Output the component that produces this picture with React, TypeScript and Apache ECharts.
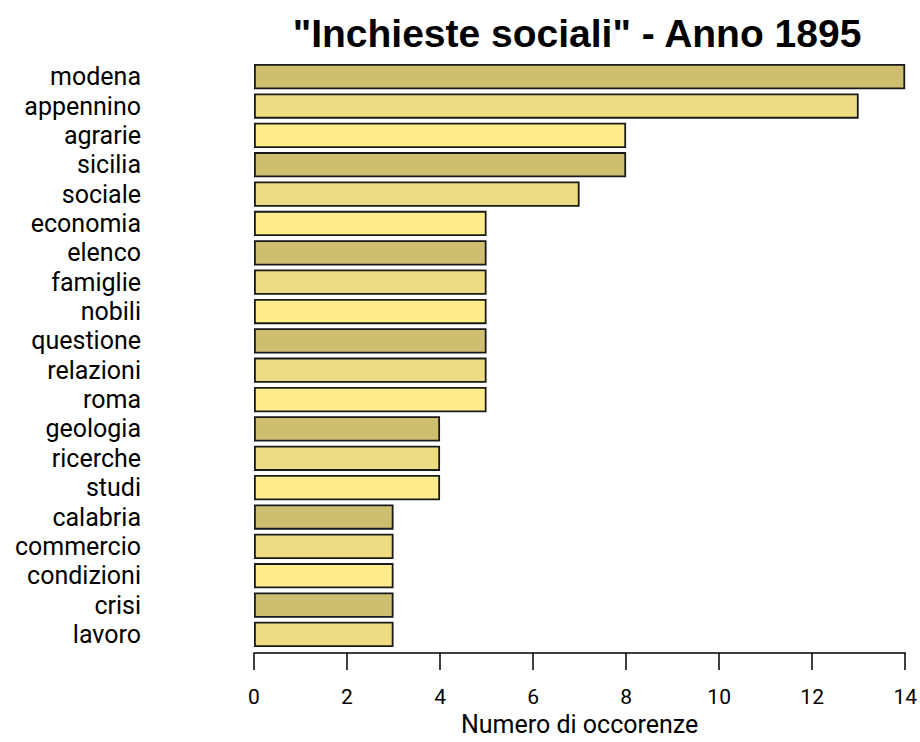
import React, { useEffect, useRef } from "react";
import * as echarts from "echarts";

const categories = [
  "modena", "appennino", "agrarie", "sicilia", "sociale", "economia", "elenco",
  "famiglie", "nobili", "questione", "relazioni", "roma", "geologia", "ricerche",
  "studi", "calabria", "commercio", "condizioni", "crisi", "lavoro",
];
const values = [14, 13, 8, 8, 7, 5, 5, 5, 5, 5, 5, 5, 4, 4, 4, 3, 3, 3, 3, 3];
const palette = ["#CDBE70", "#EEDC82", "#FFEC8B"];
const xTicks = [0, 2, 4, 6, 8, 10, 12, 14];
const titleText = '"Inchieste sociali" - Anno 1895';
const xAxisName = "Numero di occorenze";

export default function App() {
  const ref = useRef<HTMLDivElement>(null);
  useEffect(() => {
    document.body.style.margin = "0";
    const chart = echarts.init(ref.current!, null, { renderer: "svg" });
    const titleFont = "'Liberation Sans', Arial, sans-serif";
    const font = "Roboto, 'Liberation Sans', sans-serif";
    chart.setOption({
      animation: false,
      backgroundColor: "#ffffff",
      title: {
        text: titleText,
        left: 572,
        top: 9,
        textAlign: "center",
        textStyle: { fontFamily: titleFont, fontSize: 39, fontWeight: "bold", color: "#000" },
      },
      grid: { left: 254, right: 13, top: 62, bottom: 88, containLabel: false },
      xAxis: {
        type: "value",
        min: xTicks[0],
        max: xTicks[xTicks.length - 1],
        interval: 2,
        offset: 4,
        name: xAxisName,
        nameLocation: "middle",
        nameGap: 56,
        nameTextStyle: { fontFamily: font, fontSize: 25, color: "#000" },
        axisLine: { show: true, lineStyle: { color: "#000", width: 1.5 } },
        axisTick: { show: true, length: 17, lineStyle: { color: "#000", width: 1.5 } },
        axisLabel: { fontFamily: font, fontSize: 21, color: "#000", margin: 33 },
        splitLine: { show: false },
      },
      yAxis: {
        type: "category",
        data: categories,
        inverse: true,
        axisLine: { show: false },
        axisTick: { show: false },
        axisLabel: { fontFamily: font, fontSize: 25, color: "#000", margin: 113, interval: 0 },
      },
      series: [
        {
          type: "bar",
          data: values.map((v, i) => ({
            value: v,
            itemStyle: { color: palette[i % palette.length] },
          })),
          barCategoryGap: "14%",
          itemStyle: { borderColor: "#1a1a1a", borderWidth: 1.8 },
        },
      ],
    });
    return () => chart.dispose();
  }, []);
  return <div ref={ref} style={{ width: 920, height: 742 }} />;
}
